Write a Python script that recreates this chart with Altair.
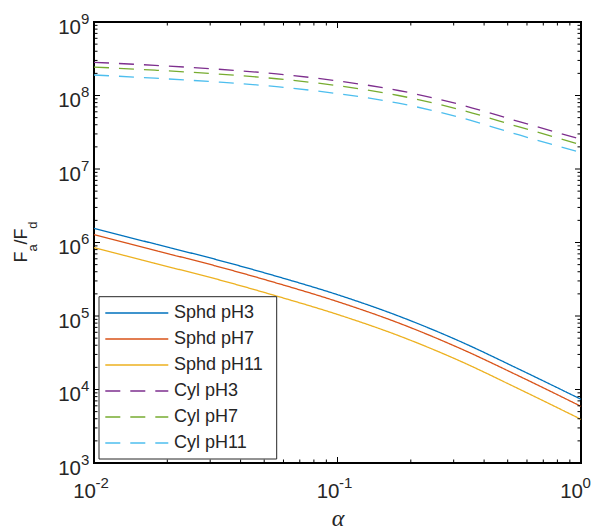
import altair as alt
import pandas as pd

# ---------------- data ----------------
alpha = [0.01, 0.0178, 0.0316, 0.0562, 0.1, 0.178, 0.316, 0.562, 1.0]
sphd_ph3 = [1.56e6, 9.55e5, 5.89e5, 3.47e5, 1.95e5, 1.00e5, 4.57e4, 1.86e4, 7.36e3]
sphd_ph7 = [1.28e6, 7.82e5, 4.80e5, 2.81e5, 1.57e5, 8.05e4, 3.67e4, 1.50e4, 5.90e3]
sphd_ph11 = [8.51e5, 5.20e5, 3.20e5, 1.87e5, 1.05e5, 5.41e4, 2.47e4, 1.00e4, 3.93e3]
cyl_ph3 = [2.83e8, 2.57e8, 2.29e8, 1.97e8, 1.58e8, 1.17e8, 7.59e7, 4.37e7, 2.54e7]
cyl_ph7 = [2.44e8, 2.21e8, 1.97e8, 1.69e8, 1.36e8, 1.00e8, 6.47e7, 3.71e7, 2.14e7]
cyl_ph11 = [1.90e8, 1.72e8, 1.53e8, 1.32e8, 1.06e8, 7.87e7, 5.06e7, 2.88e7, 1.67e7]

series_names = ["Sphd pH3", "Sphd pH7", "Sphd pH11", "Cyl pH3", "Cyl pH7", "Cyl pH11"]
series_values = [sphd_ph3, sphd_ph7, sphd_ph11, cyl_ph3, cyl_ph7, cyl_ph11]
colors = ["#0072BD", "#D95319", "#EDB120", "#7E2F8E", "#77AC30", "#4DBEEE"]
dashed = [False, False, False, True, True, True]

x_major = [0.01, 0.1, 1.0]
x_exp = ["-2", "-1", "0"]
y_major = [1e3, 1e4, 1e5, 1e6, 1e7, 1e8, 1e9]
y_exp = ["3", "4", "5", "6", "7", "8", "9"]
minor_mult = [2, 3, 4, 5, 6, 7, 8, 9]
x_decades = [0.01, 0.1]
y_decades = [1e3, 1e4, 1e5, 1e6, 1e7, 1e8]

# ---------------- tables ----------------
rows = []
for name, vals in zip(series_names, series_values):
    for a, v in zip(alpha, vals):
        rows.append({"series": name, "alpha": a, "F": v})
df = pd.DataFrame(rows)

x_minor = [m * d for d in x_decades for m in minor_mult]
y_minor = [m * d for d in y_decades for m in minor_mult]

W, H = 487, 441
FONT = "Liberation Sans"
TXT = "#262626"
DASH = [15, 10]
SOLID = [1, 0]

xs = alt.Scale(type="log", domain=[0.01, 1], nice=False)
ys = alt.Scale(type="log", domain=[1e3, 1e9], nice=False)

series_layers = []
for name, col, dsh in zip(series_names, colors, dashed):
    series_layers.append(
        alt.Chart(df[df["series"] == name]).mark_line(
            strokeWidth=1.3, interpolate="monotone", color=col,
            strokeDash=DASH if dsh else SOLID).encode(
            x=alt.X("alpha:Q", scale=xs, axis=None),
            y=alt.Y("F:Q", scale=ys, axis=None),
        )
    )

# ---------------- ticks (inward, all four sides) ----------------
def xticks(vals, length):
    d = pd.DataFrame({"v": vals})
    b = alt.Chart(d).mark_rule(color="black", strokeWidth=1).encode(
        x=alt.X("v:Q", scale=xs, axis=None), y=alt.value(H), y2=alt.value(H - length))
    t = alt.Chart(d).mark_rule(color="black", strokeWidth=1).encode(
        x=alt.X("v:Q", scale=xs, axis=None), y=alt.value(0), y2=alt.value(length))
    return [b, t]


def yticks(vals, length):
    d = pd.DataFrame({"v": vals})
    l = alt.Chart(d).mark_rule(color="black", strokeWidth=1).encode(
        y=alt.Y("v:Q", scale=ys, axis=None), x=alt.value(0), x2=alt.value(length))
    r = alt.Chart(d).mark_rule(color="black", strokeWidth=1).encode(
        y=alt.Y("v:Q", scale=ys, axis=None), x=alt.value(W), x2=alt.value(W - length))
    return [l, r]


ticks = xticks(x_major, 6) + xticks(x_minor, 3.5) + yticks(y_major, 6) + yticks(y_minor, 3.5)

# ---------------- tick labels 10^n ----------------
dxl = pd.DataFrame({"v": x_major, "e": x_exp})
dyl = pd.DataFrame({"v": y_major, "e": y_exp})
BASE, EXP = 20.5, 15

xl_base = alt.Chart(dxl).mark_text(text="10", align="right", baseline="alphabetic", dx=2,
                                    font=FONT, fontSize=BASE, color=TXT).encode(
    x=alt.X("v:Q", scale=xs, axis=None), y=alt.value(475.5))
xl_exp = alt.Chart(dxl).mark_text(align="left", baseline="alphabetic", dx=1.5,
                                   font=FONT, fontSize=EXP, color=TXT).encode(
    x=alt.X("v:Q", scale=xs, axis=None), y=alt.value(466), text="e:N")
yl_base = alt.Chart(dyl).mark_text(text="10", align="right", baseline="alphabetic", dy=11.5,
                                    font=FONT, fontSize=BASE, color=TXT).encode(
    y=alt.Y("v:Q", scale=ys, axis=None), x=alt.value(-13))
yl_exp = alt.Chart(dyl).mark_text(align="left", baseline="alphabetic", dy=1.5,
                                   font=FONT, fontSize=EXP, color=TXT).encode(
    y=alt.Y("v:Q", scale=ys, axis=None), x=alt.value(-13), text="e:N")

# ---------------- axis titles ----------------
def label(txt, x, y, size, angle=0):
    return alt.Chart(pd.DataFrame({"t": [txt]})).mark_text(
        align="left", baseline="alphabetic", font=FONT, fontSize=size, angle=angle,
        color=TXT).encode(x=alt.value(x), y=alt.value(y), text="t:N")


ytitle = [
    label("F", -67, 240.5, 18, 270),
    label("a", -57, 229.6, 13, 270),
    label("/F", -67, 222.4, 18, 270),
    label("d", -57, 206.8, 13, 270),
]
xtitle = alt.Chart(pd.DataFrame({"t": ["α"]})).mark_text(
    align="center", baseline="alphabetic", font="Liberation Serif", fontSize=24,
    fontStyle="italic", color=TXT).encode(x=alt.value(244), y=alt.value(504), text="t:N")

# ---------------- legend ----------------
legend_rows = [0, 1, 2, 3, 4, 5]
dleg = pd.DataFrame({"series": series_names, "row": legend_rows})
rowscale = alt.Scale(domain=[0, 5], range=[291, 421])
leg_box = alt.Chart(pd.DataFrame({"a": [0]})).mark_rect(
    fill="white", stroke=TXT, strokeWidth=1).encode(
    x=alt.value(5), x2=alt.value(182.7), y=alt.value(274.7), y2=alt.value(437))
leg_lines = []
for name, col, dsh, r in zip(series_names, colors, dashed, legend_rows):
    leg_lines.append(
        alt.Chart(dleg[dleg["row"] == r]).mark_rule(
            strokeWidth=1.6, stroke=col, strokeDash=DASH if dsh else SOLID).encode(
            x=alt.value(11.3), x2=alt.value(74.3),
            y=alt.Y("row:Q", scale=rowscale, axis=None))
    )
leg_text = alt.Chart(dleg).mark_text(align="left", baseline="middle", font=FONT,
                                      fontSize=18, color=TXT).encode(
    x=alt.value(80), y=alt.Y("row:Q", scale=rowscale, axis=None), text="series:N")

chart = alt.layer(
    *series_layers, *ticks, xl_base, xl_exp, yl_base, yl_exp, *ytitle, xtitle,
    leg_box, *leg_lines, leg_text,
).resolve_scale(y="independent").properties(
    width=W, height=H,
    autosize=alt.AutoSizeParams(type="none"),
    padding={"left": 94, "top": 22, "right": 16, "bottom": 67},
    background="white",
).configure_view(stroke="black", strokeWidth=2)

chart.save("out.html", embed_options={"renderer": "svg", "actions": False})
